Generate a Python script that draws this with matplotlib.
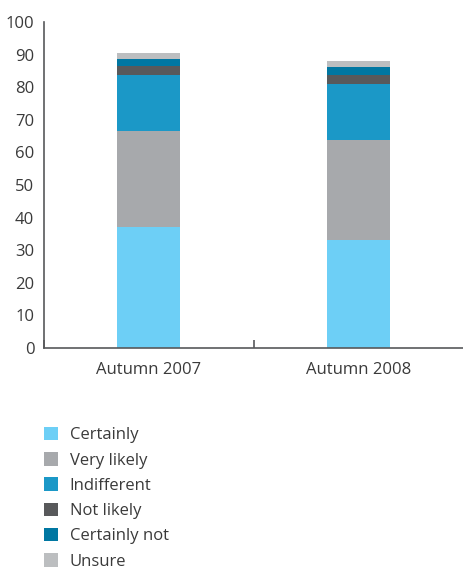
import numpy as np
import matplotlib.pyplot as plt
from matplotlib.patches import Patch

plt.rcParams['font.family'] = ['Open Sans', 'DejaVu Sans']

periods = ['Autumn 2007', 'Autumn 2008']
answers = ['Certainly', 'Very likely', 'Indifferent', 'Not likely', 'Certainly not', 'Unsure']
certainly = [37.1, 33.1]
very_likely = [29.6, 30.8]
indifferent = [16.9, 17.1]
not_likely = [3.0, 2.7]
certainly_not = [2.2, 2.5]
unsure = [1.8, 1.8]
colors = ['#6dcff6', '#a7a9ac', '#1b98c7', '#58595b', '#0077a2', '#bcbec0']

series = [certainly, very_likely, indifferent, not_likely, certainly_not, unsure]

fig = plt.figure(figsize=(4.64, 5.73), dpi=100)
ax = fig.add_axes([44 / 464, 225 / 573, 1 - 44 / 464, 326 / 573])

x = np.arange(len(periods))
bottom = np.zeros(len(periods))
for vals, col in zip(series, colors):
    ax.bar(x, vals, width=0.30, bottom=bottom, color=col, linewidth=0)
    bottom += np.array(vals)

axis_col = '#58595b'
text_col = '#3a3a3a'
ax.set_xlim(-0.5, 1.458)
ax.set_ylim(0, 100)
ax.set_yticks(np.arange(0, 101, 10))
ax.set_xticks(x)
ax.set_xticklabels(periods)
ax.set_xticks([-0.5, 0.5, 1.5], minor=True)
ax.tick_params(axis='y', length=0, pad=7, labelsize=12, labelcolor=text_col)
ax.tick_params(axis='x', which='major', length=0, pad=10, labelsize=12, labelcolor=text_col)
ax.tick_params(axis='x', which='minor', direction='in', length=6, width=1.2, color=axis_col)
for s in ['top', 'right']:
    ax.spines[s].set_visible(False)
for s in ['left', 'bottom']:
    ax.spines[s].set_color(axis_col)
    ax.spines[s].set_linewidth(1.2)

handles = [Patch(facecolor=c, edgecolor='none') for c in colors]
fig.legend(handles, answers, loc='upper left', bbox_to_anchor=(44 / 464, 1 - 427 / 573),
           frameon=False, fontsize=12, handlelength=0.85, handleheight=0.85,
           handletextpad=0.7, labelspacing=0.53, borderaxespad=0, borderpad=0,
           labelcolor=text_col)

fig.savefig('out.png', dpi=100)
